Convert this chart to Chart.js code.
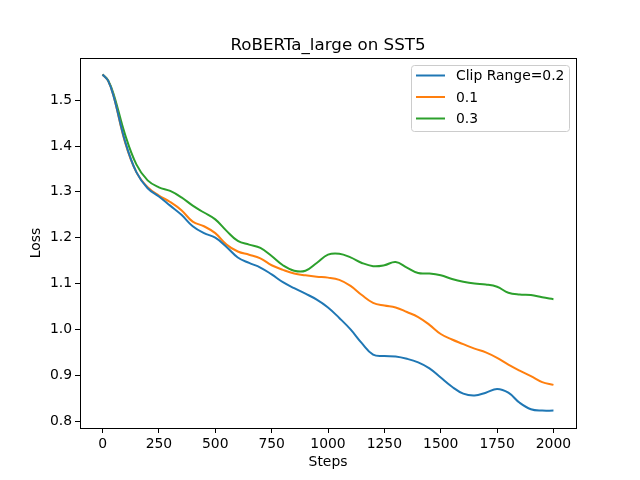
<!DOCTYPE html>
<html>
<head>
<meta charset="utf-8">
<script src="https://cdn.jsdelivr.net/npm/chart.js@4/dist/chart.umd.min.js"></script>
<style>
  html, body { margin: 0; padding: 0; background: #fff; }
  #wrap { width: 640px; height: 480px; }
</style>
</head>
<body>
<div id="wrap"><canvas id="myChart" width="640" height="480"></canvas></div>
<script>
const steps = [0, 25, 50, 100, 150, 200, 250, 300, 350, 400, 450, 500, 550, 600, 650, 700, 750, 800, 850, 900, 950,
  1000, 1050, 1100, 1150, 1200, 1250, 1300, 1350, 1400, 1450, 1500, 1550, 1600, 1650, 1700, 1750, 1800, 1850, 1900, 1950, 2000];

const clip02 = [1.556, 1.542, 1.507, 1.41, 1.343, 1.308, 1.29, 1.27, 1.25, 1.225, 1.21, 1.20, 1.18, 1.157, 1.145, 1.135, 1.12, 1.103, 1.09, 1.078, 1.065,
  1.048, 1.025, 1.0, 0.97, 0.945, 0.942, 0.941, 0.936, 0.928, 0.915, 0.895, 0.875, 0.86, 0.856, 0.862, 0.87, 0.862, 0.84, 0.826, 0.823, 0.823];

const clip01 = [1.556, 1.542, 1.507, 1.408, 1.343, 1.31, 1.292, 1.278, 1.26, 1.235, 1.225, 1.21, 1.185, 1.17, 1.163, 1.155, 1.14, 1.13, 1.122, 1.118, 1.115,
  1.113, 1.108, 1.095, 1.075, 1.058, 1.052, 1.048, 1.038, 1.027, 1.01, 0.99, 0.978, 0.968, 0.958, 0.95, 0.938, 0.923, 0.91, 0.898, 0.885, 0.879];

const clip03 = [1.556, 1.543, 1.512, 1.425, 1.36, 1.325, 1.31, 1.302, 1.288, 1.27, 1.255, 1.24, 1.215, 1.193, 1.185, 1.178, 1.16, 1.14, 1.128, 1.128, 1.145,
  1.163, 1.165, 1.157, 1.145, 1.138, 1.14, 1.147, 1.135, 1.123, 1.122, 1.118, 1.11, 1.104, 1.1, 1.098, 1.093, 1.08, 1.076, 1.075, 1.07, 1.066];

const xTicks = [0, 250, 500, 750, 1000, 1250, 1500, 1750, 2000];
const yTicks = [0.8, 0.9, 1.0, 1.1, 1.2, 1.3, 1.4, 1.5];

const seriesLabels = ["Clip Range=0.2", "0.1", "0.3"];
const seriesColors = ["#1f77b4", "#ff7f0e", "#2ca02c"];

const FONT = "'DejaVu Sans', sans-serif";

function toPoints(vals) {
  return vals.map((v, i) => ({ x: steps[i], y: v }));
}

const data = {
  datasets: [clip02, clip01, clip03].map((vals, i) => ({
    label: seriesLabels[i],
    data: toPoints(vals),
    borderColor: seriesColors[i],
    backgroundColor: seriesColors[i],
    borderWidth: 2,
    pointRadius: 0,
    tension: 0.4,
    fill: false,
  })),
};

// title, axes frame and legend box, drawn the matplotlib way
const mplDecor = {
  id: "mplDecor",
  afterDatasetsDraw(chart) {
    const ctx = chart.ctx;
    const a = chart.chartArea;
    ctx.save();
    ctx.strokeStyle = "#000";
    ctx.lineWidth = 1;
    ctx.strokeRect(Math.round(a.left) + 0.5, Math.round(a.top) + 0.5,
      Math.round(a.right - a.left), Math.round(a.bottom - a.top));

    ctx.fillStyle = "#000";
    ctx.font = "16.7px " + FONT;
    ctx.textAlign = "center";
    ctx.textBaseline = "alphabetic";
    ctx.fillText("RoBERTa_large on SST5", (a.left + a.right) / 2, 50);

    // legend
    const lx = 411, ly = 65, lw = 158, lh = 66;
    ctx.beginPath();
    ctx.roundRect(lx + 0.5, ly + 0.5, lw, lh, 3);
    ctx.fillStyle = "rgba(255,255,255,0.8)";
    ctx.fill();
    ctx.strokeStyle = "#cccccc";
    ctx.stroke();
    ctx.font = "13.9px " + FONT;
    ctx.textAlign = "left";
    ctx.textBaseline = "middle";
    chart.data.datasets.forEach((ds, i) => {
      const y = ly + 10.5 + i * 21.5;
      ctx.strokeStyle = ds.borderColor;
      ctx.lineWidth = 2;
      ctx.beginPath();
      ctx.moveTo(416, y);
      ctx.lineTo(445, y);
      ctx.stroke();
      ctx.fillStyle = "#000";
      ctx.fillText(ds.label, 456, y + 1);
    });
    ctx.restore();
  },
};

const ctx = document.getElementById("myChart").getContext("2d");
const chart = new Chart(ctx, {
  type: "line",
  data,
  options: {
    responsive: false,
    animation: false,
    layout: { padding: { top: 58, right: 64, left: 0, bottom: 0 } },
    plugins: {
      legend: { display: false },
      title: { display: false },
      tooltip: { enabled: false },
    },
    scales: {
      x: {
        type: "linear",
        min: -100,
        max: 2100,
        afterFit: (scale) => { scale.height = 52; },
        afterBuildTicks: (scale) => { scale.ticks = xTicks.map((v) => ({ value: v })); },
        grid: { drawOnChartArea: false, tickLength: 5, color: "#000" },
        border: { display: false },
        ticks: {
          color: "#000",
          padding: 3,
          maxRotation: 0,
          font: { family: FONT, size: 13.9 },
          callback: (v) => String(v),
        },
        title: {
          display: true,
          text: "Steps",
          color: "#000",
          font: { family: FONT, size: 13.9 },
          padding: { top: 0, bottom: 9 },
        },
      },
      y: {
        type: "linear",
        min: 0.785,
        max: 1.592,
        afterFit: (scale) => { scale.width = 80; },
        afterBuildTicks: (scale) => { scale.ticks = yTicks.map((v) => ({ value: v })); },
        grid: { drawOnChartArea: false, tickLength: 5, color: "#000" },
        border: { display: false },
        ticks: {
          color: "#000",
          padding: 3,
          font: { family: FONT, size: 13.9 },
          callback: (v) => v.toFixed(1),
        },
        title: {
          display: true,
          text: "Loss",
          color: "#000",
          font: { family: FONT, size: 13.9 },
          padding: { top: 28, bottom: 0 },
        },
      },
    },
  },
  plugins: [mplDecor],
});
</script>
</body>
</html>
